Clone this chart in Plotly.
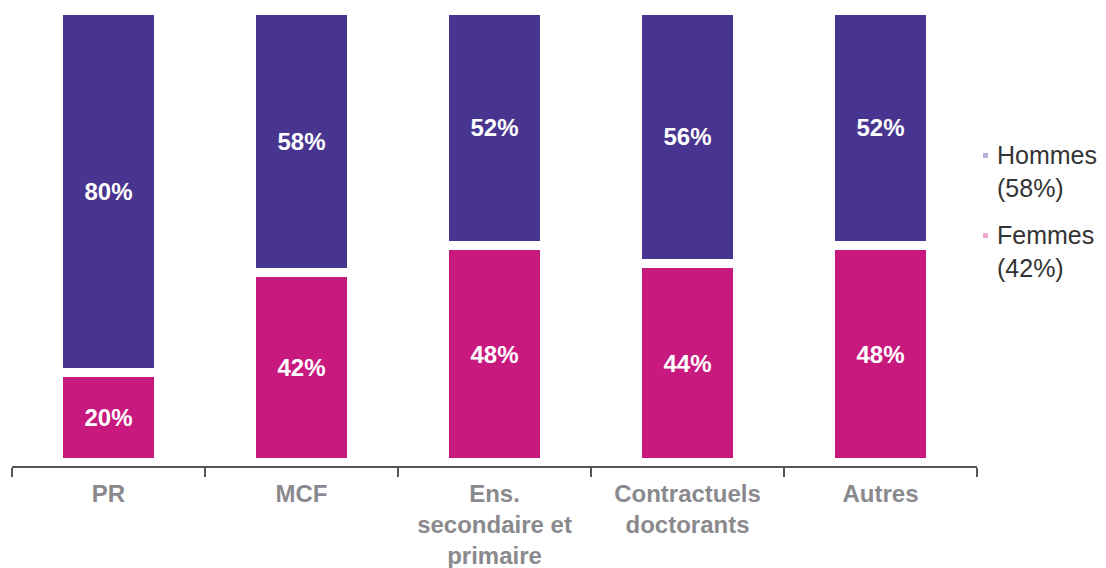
import plotly.graph_objects as go

categories = ["PR", "MCF", "Ens.<br>secondaire et<br>primaire", "Contractuels<br>doctorants", "Autres"]
femmes = [20, 42, 48, 44, 48]
hommes = [80, 58, 52, 56, 52]
femmes_text = ["%d%%" % v for v in femmes]
hommes_text = ["%d%%" % v for v in hommes]
legend_names = ["Hommes<br>(58%)", "Femmes<br>(42%)"]
legend_colors = ["#B8B0DA", "#F2A6CF"]

PURPLE = "#48358F"
PINK = "#C8197F"
FONT = "Liberation Sans, Arial"

W, H = 1106, 568
ML, MR, MT, MB = 12, 129, 10, 102
PW, PH = W - ML - MR, H - MT - MB

def px_x(px):
    return (px - ML) / PW

def px_y(py):
    return 1 - (py - MT) / PH

fig = go.Figure()
fig.add_trace(go.Bar(x=categories, y=femmes, text=femmes_text, name="Femmes",
                     marker=dict(color=PINK, line=dict(color="white", width=9)),
                     textposition="inside", insidetextanchor="middle", textangle=0,
                     textfont=dict(color="white", size=24, family=FONT, weight="bold"),
                     showlegend=False, width=0.52))
fig.add_trace(go.Bar(x=categories, y=hommes, text=hommes_text, name="Hommes",
                     marker=dict(color=PURPLE, line=dict(color="white", width=9)),
                     textposition="inside", insidetextanchor="middle", textangle=0,
                     textfont=dict(color="white", size=24, family=FONT, weight="bold"),
                     showlegend=False, width=0.52))

# custom legend (text + small square keys) placed in the right margin
legend_first_line_px = [155, 235]
for name, col, ly in zip(legend_names, legend_colors, legend_first_line_px):
    fig.add_annotation(x=px_x(995), y=px_y(ly + 16), xref="paper", yref="paper",
                       text=name, showarrow=False, xanchor="left", yanchor="middle", align="left",
                       font=dict(size=25, color="#333333", family=FONT))
    fig.add_shape(type="rect", xref="paper", yref="paper",
                  x0=px_x(983), x1=px_x(988), y0=px_y(ly - 2), y1=px_y(ly + 3),
                  fillcolor=col, line=dict(width=0))

fig.update_layout(
    barmode="stack",
    width=W, height=H,
    margin=dict(l=ML, r=MR, t=MT, b=MB),
    paper_bgcolor="white", plot_bgcolor="white",
    showlegend=False,
    uniformtext=dict(mode=False),
    xaxis=dict(showline=True, linecolor="#555555", linewidth=2, ticks="outside", tickson="boundaries",
               ticklen=9, tickwidth=2, tickcolor="#555555", ticklabelstandoff=5,
               tickfont=dict(size=24, color="#8A8A8E", family=FONT, weight="bold"),
               showgrid=False, range=[-0.5, 4.5], automargin=False),
    yaxis=dict(visible=False, range=[-0.7, 100], showgrid=False),
)
fig.write_html("out.html", post_script="document.body.style.margin='0';",
               config={"displayModeBar": False})
